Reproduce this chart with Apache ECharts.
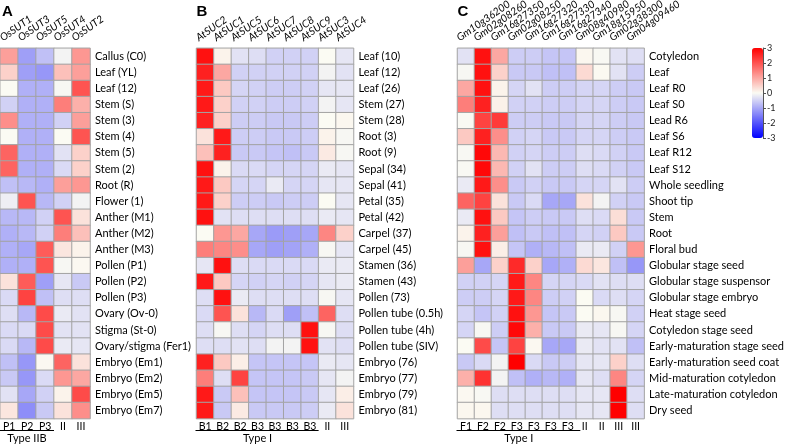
<!DOCTYPE html>
<html>
<head>
<meta charset="utf-8">
<script src="https://cdn.jsdelivr.net/npm/echarts@6/dist/echarts.min.js"></script>
<style>
  html, body { margin: 0; padding: 0; background: #fff; }
  #chart { width: 787px; height: 448px; }
</style>
</head>
<body>
<div id="chart"></div>
<script>
// panel A - rice
const genesA = ["OsSUT1", "OsSUT3", "OsSUT5", "OsSUT4", "OsSUT2"];
const groupsA = ["P1", "P2", "P3", "II", "III"];
const tissuesA = ["Callus (C0)", "Leaf (YL)", "Leaf (12)", "Stem (S)", "Stem (3)", "Stem (4)", "Stem (5)", "Stem (2)",
  "Root (R)", "Flower (1)", "Anther (M1)", "Anther (M2)", "Anther (M3)", "Pollen (P1)", "Pollen (P2)", "Pollen (P3)",
  "Ovary (Ov-0)", "Stigma (St-0)", "Ovary/stigma (Fer1)", "Embryo (Em1)", "Embryo (Em2)", "Embryo (Em5)", "Embryo (Em7)"];
const valuesA = [
  [1.1, -1.1, -0.7, -0.1, 1.2],
  [0.5, -1.1, -1.2, 0.7, 1.1],
  [0, -0.9, -0.9, -0.05, 2.0],
  [-0.5, -0.9, -0.9, 1.5, 0.9],
  [1.3, -0.9, -0.9, -0.5, 1.1],
  [0, -0.9, -0.9, 0, 2.0],
  [1.8, -0.9, -0.9, -0.3, 0.5],
  [1.8, -0.9, -0.9, -0.4, 0.5],
  [-0.7, -0.8, -0.9, 1.1, 1.2],
  [-0.15, 2.0, -0.8, -0.5, -0.1],
  [-0.8, -0.8, -0.5, 2.0, 0.3],
  [-0.9, -0.8, -0.5, 1.5, 0.7],
  [-0.9, -1.0, 1.9, 0.25, 0.1],
  [-0.9, -0.9, 2.0, -0.05, 0.03],
  [0.3, 1.9, -1.1, -0.25, -0.6],
  [-0.4, 2.2, -0.7, -0.35, -0.35],
  [-0.35, -0.8, 2.1, -0.2, -0.3],
  [-0.4, -0.4, 2.1, -0.3, -0.3],
  [-0.4, -0.8, 2.1, -0.2, -0.25],
  [-0.7, -1.2, 0.03, 1.8, 0.3],
  [-0.6, -1.2, -0.4, 1.2, 1.0],
  [-0.3, -1.0, -0.5, 0.1, 2.1],
  [0.25, -1.3, -0.6, 0.3, 1.3]
];

// panel B - arabidopsis
const genesB = ["AtSUC2", "AtSUC1", "AtSUC5", "AtSUC6", "AtSUC7", "AtSUC8", "AtSUC9", "AtSUC3", "AtSUC4"];
const groupsB = ["B1", "B2", "B2", "B3", "B3", "B3", "B3", "II", "III"];
const tissuesB = ["Leaf (10)", "Leaf (12)", "Leaf (26)", "Stem (27)", "Stem (28)", "Root (3)", "Root (9)", "Sepal (34)",
  "Sepal (41)", "Petal (35)", "Petal (42)", "Carpel (37)", "Carpel (45)", "Stamen (36)", "Stamen (43)", "Pollen (73)",
  "Pollen tube (0.5h)", "Pollen tube (4h)", "Pollen tube (SIV)", "Embryo (76)", "Embryo (77)", "Embryo (79)", "Embryo (81)"];
const valuesB = [
  [2.8, 0.1, -0.3, -0.35, -0.5, -0.5, -0.5, 0, -0.25],
  [2.6, 1.0, -0.5, -0.5, -0.5, -0.5, -0.5, -0.1, -0.3],
  [2.7, 0.6, -0.45, -0.5, -0.55, -0.55, -0.5, -0.25, -0.25],
  [2.7, 0.5, -0.5, -0.5, -0.55, -0.55, -0.5, -0.1, -0.25],
  [2.6, 0.5, -0.55, -0.55, -0.6, -0.6, -0.55, 0, 0.05],
  [0.3, 2.7, -0.55, -0.55, -0.6, -0.6, -0.55, 0.1, -0.05],
  [0.7, 2.6, -0.6, -0.6, -0.65, -0.7, -0.6, 0.2, -0.05],
  [2.8, 0.1, -0.4, -0.4, -0.45, -0.45, -0.45, -0.2, -0.25],
  [2.7, 0.6, -0.45, -0.45, -0.2, -0.45, -0.45, -0.25, -0.25],
  [2.7, 0.5, -0.55, -0.55, -0.6, -0.55, -0.55, 0, -0.25],
  [2.8, -0.3, -0.35, -0.35, -0.35, -0.35, -0.35, -0.2, -0.25],
  [0, 1.2, 1.0, -1.0, -1.15, -1.1, -1.0, 1.4, 0.5],
  [1.5, 1.4, 1.3, -1.0, -1.1, -1.05, -0.9, -0.05, -0.25],
  [-0.25, 2.8, -0.35, -0.4, -0.4, -0.4, -0.4, -0.2, -0.2],
  [2.7, 0.6, -0.45, -0.5, -0.45, -0.5, -0.45, -0.25, -0.2],
  [-0.35, 2.8, -0.2, -0.35, -0.35, -0.35, -0.35, -0.05, -0.25],
  [-0.4, 2.0, 0.3, -0.8, -0.4, -1.1, -0.7, 1.8, -0.35],
  [-0.35, -0.05, -0.35, -0.45, -0.35, -0.35, 2.8, -0.05, -0.35],
  [-0.35, -0.35, -0.3, -0.35, -0.1, -0.1, 2.8, -0.3, -0.35],
  [2.6, 0.6, 0.15, -0.65, -0.65, -0.65, -0.65, -0.2, -0.25],
  [1.5, -0.35, 2.2, -0.65, -0.65, -0.65, -0.6, -0.25, -0.1],
  [2.7, -0.6, 0.7, -0.65, -0.65, -0.65, -0.6, -0.25, 0.15],
  [2.7, -0.6, 0.2, -0.6, -0.6, -0.6, -0.55, -0.2, 0.3]
];

// panel C - soybean
const genesC = ["Gm10g36200", "Gm02g08260", "Gm16g27350", "Gm02g08250", "Gm16g27320", "Gm16g27330", "Gm16g27340",
  "Gm08g40980", "Gm18g15950", "Gm02g38300", "Gm04g09460"];
const groupsC = ["F1", "F2", "F2", "F3", "F3", "F3", "F3", "II", "II", "III", "III"];
const tissuesC = ["Cotyledon", "Leaf", "Leaf R0", "Leaf S0", "Lead R6", "Leaf S6", "Leaf R12", "Leaf S12", "Whole seedling",
  "Shoot tip", "Stem", "Root", "Floral bud", "Globular stage seed", "Globular stage suspensor", "Globular stage embryo",
  "Heat stage seed", "Cotyledon stage seed", "Early-maturation stage seed", "Early-maturation seed coat",
  "Mid-maturation cotyledon", "Late-maturation cotyledon", "Dry seed"];
const valuesC = [
  [-0.3, 2.8, 1.0, -0.55, -0.55, -0.65, -0.65, 0.05, -0.03, -0.3, -0.35],
  [-0.05, 2.8, 0.5, -0.6, -0.6, -0.7, -0.7, 0.4, 0.02, -0.3, -0.55],
  [1.0, 2.8, 0.1, -0.45, -0.3, -0.55, -0.55, -0.45, -0.45, -0.55, -0.6],
  [1.5, 2.6, 0.12, -0.5, -0.5, -0.55, -0.55, -0.45, -0.45, -0.55, -0.6],
  [-0.02, 2.2, 2.3, -0.55, -0.55, -0.6, -0.6, -0.45, -0.45, -0.55, -0.6],
  [0.6, 2.6, 1.3, -0.5, -0.45, -0.6, -0.6, -0.45, -0.45, -0.55, -0.6],
  [-0.03, 2.9, 0.8, -0.5, -0.45, -0.55, -0.55, -0.35, -0.4, -0.5, -0.6],
  [-0.03, 2.9, 0.8, -0.5, -0.3, -0.55, -0.55, -0.35, -0.4, -0.5, -0.6],
  [-0.2, 2.7, 1.3, -0.6, -0.5, -0.6, -0.6, -0.45, -0.45, -0.3, -0.55],
  [1.8, 2.2, 0.3, -0.6, -0.4, -1.0, -1.0, 0.3, -0.1, -0.5, -0.6],
  [-0.2, 2.8, 0.6, -0.65, -0.55, -0.6, -0.6, -0.35, -0.4, 0.35, -0.6],
  [0.1, 2.6, 1.1, -0.7, -0.6, -0.7, -0.7, -0.45, -0.5, 0.6, -0.6],
  [-0.05, 2.8, 0.15, -0.65, -0.9, -0.8, -0.7, -0.2, -0.2, -0.5, 1.2],
  [1.1, -1.0, 0.5, 2.5, 0.5, -1.0, -0.9, 0.4, 0.25, -0.7, -1.2],
  [-0.5, -0.5, -0.45, 2.7, 1.4, -0.45, -0.45, -0.4, -0.3, -0.35, -0.35],
  [-0.55, -0.55, -0.45, 2.7, 1.4, -0.55, -0.5, 0, -0.4, -0.35, -0.45],
  [-0.45, -0.65, -0.5, 2.8, 1.2, -0.65, -0.6, 0, 0.05, -0.05, -0.5],
  [-0.45, -0.05, -0.55, 2.9, 0.9, -0.6, -0.6, -0.2, -0.25, -0.05, -0.45],
  [0, 2.1, -0.65, 2.2, 0.03, -1.0, -1.0, -0.2, -0.3, -0.3, -0.7],
  [-0.6, -0.4, -0.1, 3.0, -0.4, -0.6, -0.55, -0.25, -0.25, 0.5, -0.35],
  [0.9, 2.4, -0.1, -0.7, -0.9, -0.8, -0.9, -0.25, -0.35, 1.4, -0.45],
  [0.03, -0.03, -0.35, -0.35, -0.35, -0.35, -0.35, -0.25, -0.25, 3.0, -0.35],
  [0.05, 0.05, -0.35, -0.35, -0.35, -0.35, -0.35, -0.25, -0.25, 3.0, -0.35]
];

const scaleTicks = [-3, -2, -1, 0, 1, 2, 3];

const FONT = "Lato";
const TOP = 48.3;
const ROW_H = 16.1;

const panels = [
  { letter: "A", genes: genesA, groups: groupsA, tissues: tissuesA, values: valuesA, left: 0, width: 90, typeName: "Type IIB", typeCols: 3 },
  { letter: "B", genes: genesB, groups: groupsB, tissues: tissuesB, values: valuesB, left: 196.5, width: 157, typeName: "Type I", typeCols: 7 },
  { letter: "C", genes: genesC, groups: groupsC, tissues: tissuesC, values: valuesC, left: 457.5, width: 193, typeName: "Type I", typeCols: 7 }
];

let grid = [], xAxis = [], yAxis = [], series = [], graphic = [];

panels.forEach((p, i) => {
  const h = ROW_H * p.tissues.length;
  grid.push({ left: p.left, top: TOP, width: p.width, height: h });
  xAxis.push({
    gridIndex: i, type: "category", data: p.groups, position: "bottom",
    axisLine: { show: false }, axisTick: { show: false }, splitLine: { show: false },
    axisLabel: { interval: 0, margin: 3, fontSize: 10.5, color: "#000", fontFamily: FONT }
  });
  yAxis.push({
    gridIndex: i, type: "category", data: p.tissues, inverse: true, position: "right",
    axisLine: { show: false }, axisTick: { show: false }, splitLine: { show: false },
    axisLabel: { interval: 0, margin: 5, fontSize: 11, color: "#000", fontFamily: FONT }
  });
  let data = [];
  p.values.forEach((row, r) => row.forEach((v, c) => data.push([c, r, v])));
  series.push({
    type: "heatmap", xAxisIndex: i, yAxisIndex: i, data: data,
    itemStyle: { borderColor: "#a3a3a3", borderWidth: 1 },
    emphasis: { disabled: true }, silent: true, animation: false
  });

  const colW = p.width / p.genes.length;
  const lineEnd = p.left + colW * p.typeCols;
  graphic.push({
    type: "text", left: p.left + (i === 0 ? 2 : 0), top: 4,
    style: { text: p.letter, font: 'bold 15px "Liberation Sans"', fill: "#000" }
  });
  graphic.push({
    type: "line", shape: { x1: p.left - 1, y1: 430.5, x2: lineEnd, y2: 430.5 },
    style: { stroke: "#000", lineWidth: 1 }
  });
  graphic.push({
    type: "text", x: (p.left + lineEnd) / 2, y: 438.5,
    style: { text: p.typeName, font: "11px " + FONT, fill: "#000", align: "center", verticalAlign: "middle" }
  });
});

// colour scale axis
const cbi = grid.length;
grid.push({ left: 752, top: 48, width: 11, height: 90 });
xAxis.push({ gridIndex: cbi, type: "category", data: [""], show: false });
yAxis.push({
  gridIndex: cbi, type: "value", min: scaleTicks[0], max: scaleTicks[scaleTicks.length - 1], interval: 1,
  position: "right", splitLine: { show: false },
  axisLine: { show: true, lineStyle: { color: "#555", width: 1 } },
  axisTick: { show: true, length: 3, lineStyle: { color: "#555" } },
  axisLabel: { fontSize: 9, margin: 4, color: "#222", fontFamily: FONT }
});

const option = {
  animation: false,
  backgroundColor: "#fff",
  grid: grid,
  xAxis: xAxis,
  yAxis: yAxis,
  visualMap: {
    type: "continuous", min: -3, max: 3, seriesIndex: [0, 1, 2],
    calculable: false, orient: "vertical", left: 752, top: 48,
    itemWidth: 11, itemHeight: 90, padding: 0,
    inRange: { color: ["#0000ff", "#fbfbf3", "#ff0000"] }
  },
  series: series,
  graphic: graphic
};

const chart = echarts.init(document.getElementById("chart"), null, { renderer: "canvas" });
chart.setOption(option);

// slanted gene names above the columns, placed from the axis positions
const ang = 35 * Math.PI / 180;
panels.forEach((p, i) => {
  p.genes.forEach((g, c) => {
    const px = chart.convertToPixel({ xAxisIndex: i }, c);
    graphic.push({
      type: "text", x: px - 5, y: TOP - 5, rotation: ang,
      style: { text: g, font: "italic 10.5px " + FONT, fill: "#000", align: "left", verticalAlign: "bottom" }
    });
  });
});
chart.setOption({ graphic: graphic });
</script>
</body>
</html>
